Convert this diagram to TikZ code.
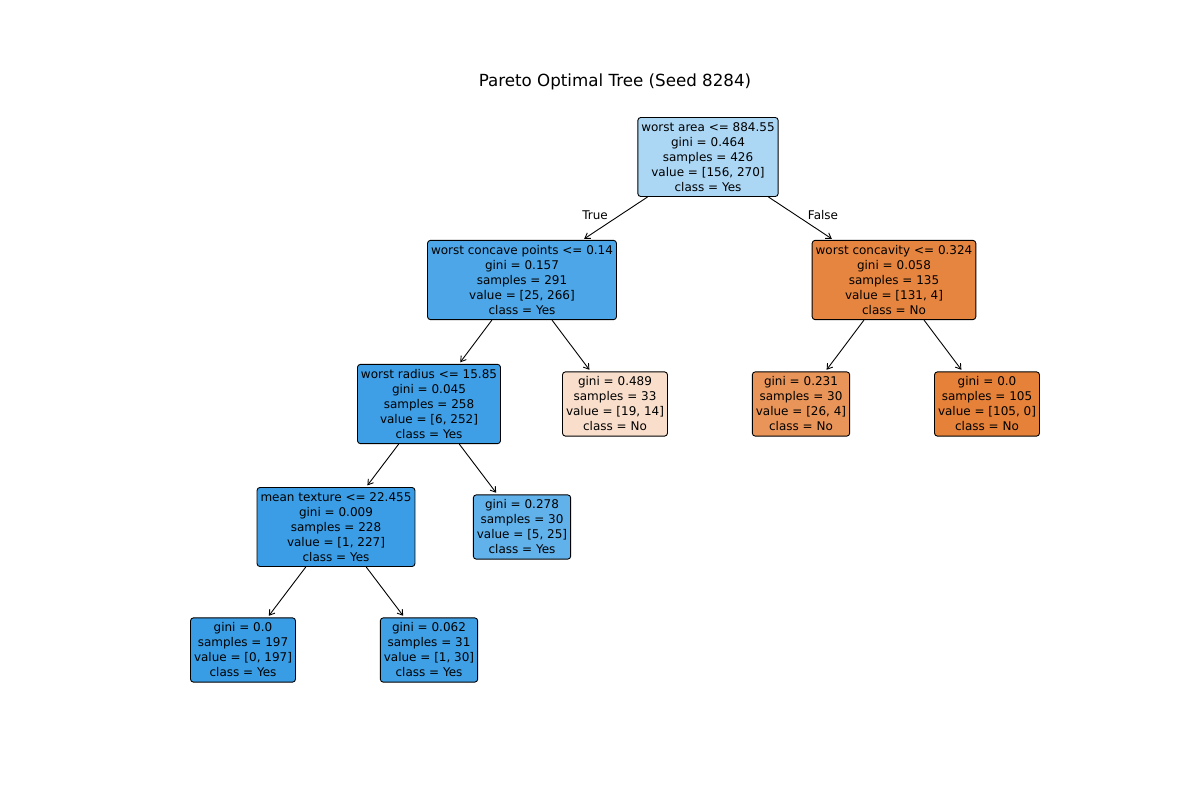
\documentclass[tikz,border=0pt]{standalone}
\usepackage{fontspec}
\setmainfont{DejaVu Sans}
\usetikzlibrary{arrows.meta}
\definecolor{c0}{RGB}{171,214,244}
\definecolor{c1}{RGB}{76,166,231}
\definecolor{c2}{RGB}{230,133,63}
\definecolor{c3}{RGB}{62,159,230}
\definecolor{c4}{RGB}{248,222,203}
\definecolor{c5}{RGB}{233,148,88}
\definecolor{c6}{RGB}{229,129,57}
\definecolor{c7}{RGB}{58,157,229}
\definecolor{c8}{RGB}{97,177,234}
\definecolor{c9}{RGB}{57,157,229}
\definecolor{c10}{RGB}{64,160,230}
\tikzset{
  treenode/.style={draw=black, line width=0.9pt, rounded corners=3pt, align=center,
    font=\fontsize{12}{15}\selectfont, inner xsep=3.5pt, inner ysep=5pt},
  edge/.style={-{Straight Barb[length=5pt,width=6.5pt]}, line width=0.9pt, shorten >=2pt},
  elabel/.style={font=\fontsize{12}{15}\selectfont}
}
\begin{document}
\begin{tikzpicture}[x=1pt,y=-1pt]
\useasboundingbox (0,0) rectangle (1200,800);
\node[font=\fontsize{16.7}{20}\selectfont] (title) at (615,82) {Pareto Optimal Tree (Seed 8284)};
\node[treenode, fill=c0] (n0) at (708,157) {worst area <= 884.55\\gini = 0.464\\samples = 426\\value = [156, 270]\\class = Yes};
\node[treenode, fill=c1] (n1) at (522,280) {worst concave points <= 0.14\\gini = 0.157\\samples = 291\\value = [25, 266]\\class = Yes};
\node[treenode, fill=c2] (n8) at (894,280) {worst concavity <= 0.324\\gini = 0.058\\samples = 135\\value = [131, 4]\\class = No};
\node[treenode, fill=c3] (n2) at (429,404) {worst radius <= 15.85\\gini = 0.045\\samples = 258\\value = [6, 252]\\class = Yes};
\node[treenode, fill=c4] (n7) at (615,404) {gini = 0.489\\samples = 33\\value = [19, 14]\\class = No};
\node[treenode, fill=c5] (n9) at (801,404) {gini = 0.231\\samples = 30\\value = [26, 4]\\class = No};
\node[treenode, fill=c6] (n10) at (987,404) {gini = 0.0\\samples = 105\\value = [105, 0]\\class = No};
\node[treenode, fill=c7] (n3) at (336,527) {mean texture <= 22.455\\gini = 0.009\\samples = 228\\value = [1, 227]\\class = Yes};
\node[treenode, fill=c8] (n6) at (522,527) {gini = 0.278\\samples = 30\\value = [5, 25]\\class = Yes};
\node[treenode, fill=c9] (n4) at (243,650) {gini = 0.0\\samples = 197\\value = [0, 197]\\class = Yes};
\node[treenode, fill=c10] (n5) at (429,650) {gini = 0.062\\samples = 31\\value = [1, 30]\\class = Yes};
\draw[edge] (n0) -- (n1);
\draw[edge] (n0) -- (n8);
\draw[edge] (n1) -- (n2);
\draw[edge] (n1) -- (n7);
\draw[edge] (n8) -- (n9);
\draw[edge] (n8) -- (n10);
\draw[edge] (n2) -- (n3);
\draw[edge] (n2) -- (n6);
\draw[edge] (n3) -- (n4);
\draw[edge] (n3) -- (n5);
\node[elabel] (ltrue) at (595,215) {True};
\node[elabel] (lfalse) at (823,215) {False};
\end{tikzpicture}
\end{document}
